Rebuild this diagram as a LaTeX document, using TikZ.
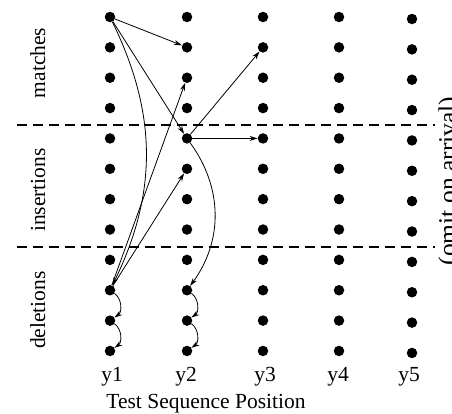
\documentclass[tikz,border=0pt]{standalone}
\usepackage{fontspec}
\setmainfont{Liberation Serif}
\usetikzlibrary{arrows.meta}
\begin{document}
\begin{tikzpicture}[x=1pt,y=-1pt,
  dot/.style={circle,fill=black,inner sep=0pt,minimum size=10.5pt},
  lbl/.style={font=\fontsize{21.5}{24}\selectfont,inner sep=0pt},
  link/.style={-{Stealth[length=8pt,width=5pt]},line width=0.8pt},
  divider/.style={line width=1.6pt,dash pattern=on 10pt off 6pt}]
\useasboundingbox (0,0) rectangle (452,413);
% grid of states: column = sequence position, row = state
\foreach \c/\x/\dy in {1/110/0,2/187/0,3/263/0,4/339/0,5/412/2}
  \foreach \r in {1,...,12}
    \node[dot] (d\c-\r) at (\x,{17+\dy+(\r-1)*30.36}) {};
% band separators
\draw[divider] (17,125) -- (435,125);
\draw[divider] (17,247) -- (435,247);
% transitions out of the match state
\draw[link] (d1-1) -- (d2-2);
\draw[link] (d1-1) -- (d2-5);
\draw[link] (d1-1) to[bend left=26] (d1-10);
% transitions out of the insertion state
\draw[link] (d2-5) -- (d3-2);
\draw[link] (d2-5) -- (d3-5);
\draw[link] (d2-5) to[bend left=36] (d2-10);
% transitions out of the deletion state
\draw[link] (d1-10) -- (d2-3);
\draw[link] (d1-10) -- (d2-6);
\draw[link] (d1-10) to[bend left=55] (d1-11);
\draw[link] (d1-11) to[bend left=55] (d1-12);
\draw[link] (d2-10) to[bend left=55] (d2-11);
\draw[link] (d2-11) to[bend left=55] (d2-12);
% band labels
\node[lbl,rotate=90,anchor=base] (lm) at (45,63) {matches};
\node[lbl,rotate=90,anchor=base] (li) at (45,190) {insertions};
\node[lbl,rotate=90,anchor=base] (ld) at (45,310) {deletions};
\node[lbl,font=\fontsize{25.5}{28}\selectfont,rotate=90,anchor=base] (lo) at (456,181) {(omit on arrival)};
% axis labels
\node[lbl,anchor=base] (p1) at (112,381) {y1};
\node[lbl,anchor=base] (p2) at (186,381) {y2};
\node[lbl,anchor=base] (p3) at (265,381) {y3};
\node[lbl,anchor=base] (p4) at (338,381) {y4};
\node[lbl,anchor=base] (p5) at (409,381) {y5};
\node[lbl,anchor=base] (ax) at (206,408) {Test Sequence Position};
\end{tikzpicture}
\end{document}
